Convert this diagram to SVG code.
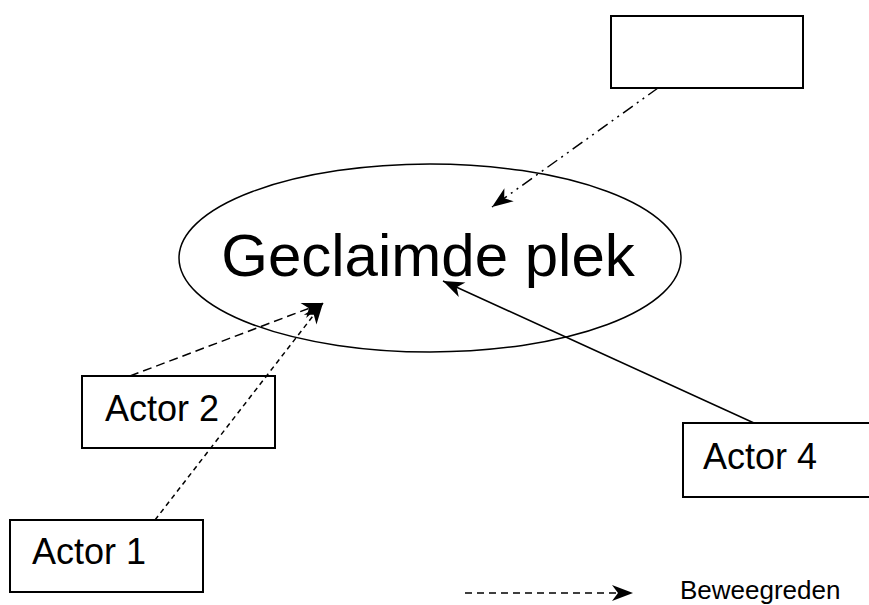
<svg xmlns="http://www.w3.org/2000/svg" width="869" height="605" viewBox="0 0 869 605">
<style>
.box{fill:#fff;stroke:#000;stroke-width:2}
.lbl{font-family:"Liberation Sans",Arial,sans-serif;fill:#000}
.ln{fill:none;stroke:#000;stroke-width:1.5}
</style>
<defs>
<marker id="ah" viewBox="-22 -10 24 20" refX="0" refY="0" markerWidth="24" markerHeight="20" markerUnits="userSpaceOnUse" orient="auto">
<path d="M0,0 L-21,-8 L-15,0 L-21,8 Z" fill="#000"/>
</marker>
</defs>
<rect width="869" height="605" fill="#fff"/>
<g id="place">
<ellipse cx="430" cy="258" rx="251" ry="94" fill="none" stroke="#000" stroke-width="1.5"/>
<text class="lbl" x="428" y="276" font-size="60" text-anchor="middle">Geclaimde plek</text>
</g>
<g id="topbox">
<rect class="box" x="611" y="16" width="192" height="72"/>
</g>
<g id="actor2">
<rect class="box" x="82" y="376" width="193" height="72"/>
<text class="lbl" x="105" y="421" font-size="36">Actor 2</text>
</g>
<g id="actor1">
<rect class="box" x="10" y="520" width="193" height="72"/>
<text class="lbl" x="32" y="564" font-size="36">Actor 1</text>
</g>
<g id="actor4">
<rect class="box" x="683" y="423" width="200" height="74"/>
<text class="lbl" x="703" y="469" font-size="36">Actor 4</text>
</g>
<g id="connectors">
<line class="ln" x1="658" y1="88" x2="492" y2="207" stroke-dasharray="12 5 2 5 2 5" marker-end="url(#ah)"/>
<line class="ln" x1="754" y1="423" x2="443" y2="281" marker-end="url(#ah)"/>
<line class="ln" x1="130" y1="376" x2="323" y2="303" stroke-dasharray="9 5" marker-end="url(#ah)"/>
<line class="ln" x1="155" y1="520" x2="323" y2="303" stroke-dasharray="5 4" marker-end="url(#ah)"/>
</g>
<g id="legend">
<line class="ln" x1="465" y1="593" x2="633" y2="593" stroke-dasharray="7 5" marker-end="url(#ah)"/>
<text class="lbl" x="680" y="599" font-size="26">Beweegreden</text>
</g>
</svg>
